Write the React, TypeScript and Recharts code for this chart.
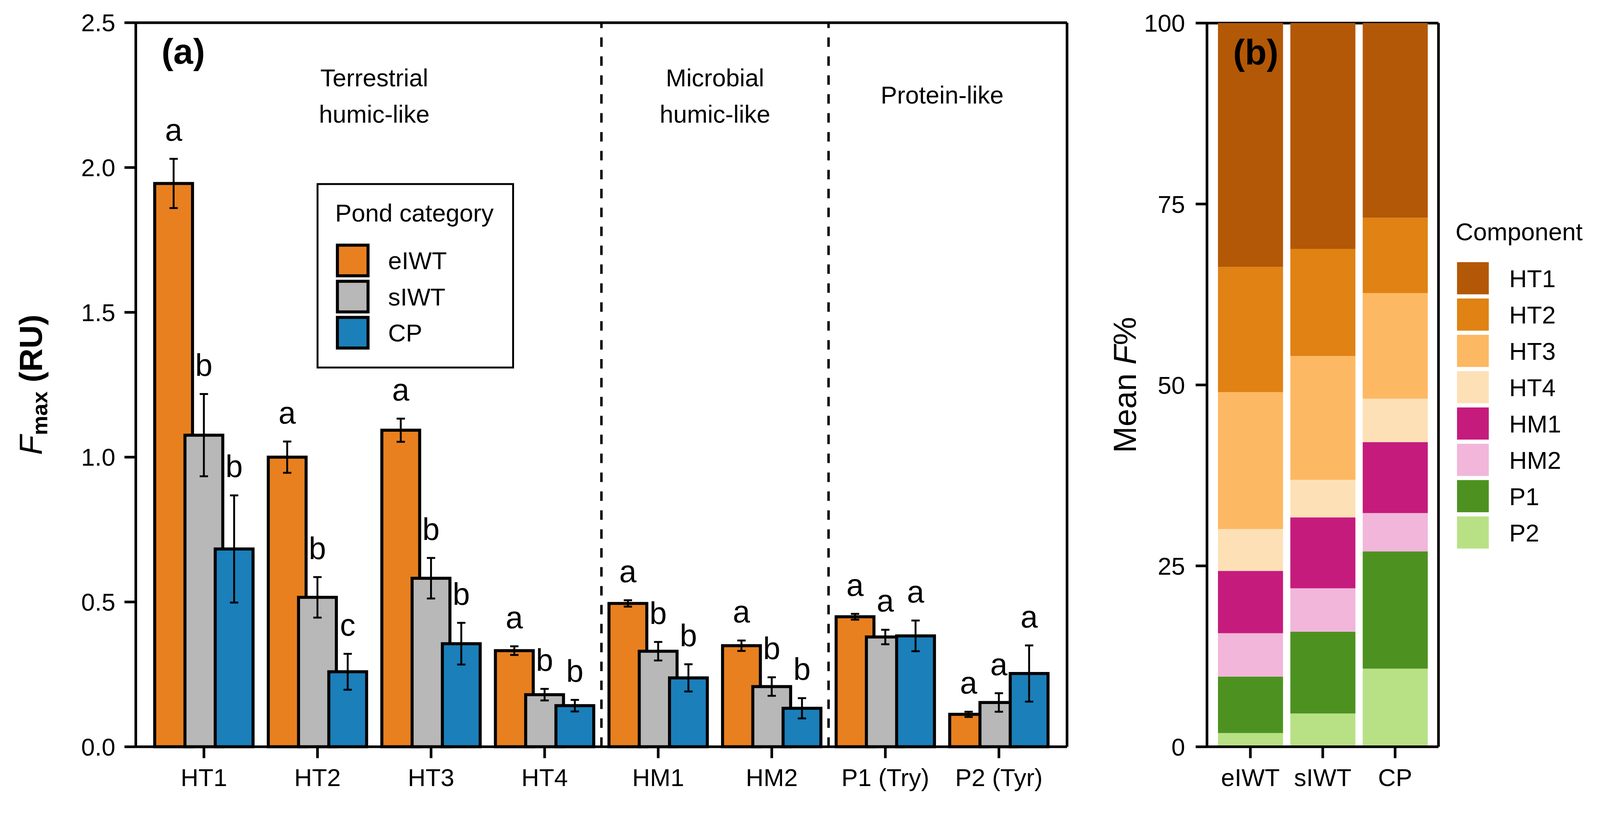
import React from "react";
import { Bar, BarChart, CartesianGrid, ErrorBar, LabelList, ReferenceLine, XAxis, YAxis } from "recharts";

const FONT = "'Liberation Sans', Arial, sans-serif";
const PAGE_W = 4230;
const PAGE_H = 2127;

// ---- panel (a): Fmax by component and pond category ----
const components = ["HT1", "HT2", "HT3", "HT4", "HM1", "HM2", "P1 (Try)", "P2 (Tyr)"];
const componentGroup = ["T", "T", "T", "T", "M", "M", "P", "P"];
const groupLabels: Record<string, string[]> = {
  T: ["Terrestrial", "humic-like"],
  M: ["Microbial", "humic-like"],
  P: ["Protein-like"],
};

const ponds = ["eIWT", "sIWT", "CP"];
const pondColors = ["#E8801F", "#B8B8B8", "#1B7FBA"];

const eIWTMean = [1.945, 1.0, 1.093, 0.332, 0.495, 0.349, 0.449, 0.112];
const eIWTSe = [0.085, 0.054, 0.04, 0.015, 0.011, 0.018, 0.01, 0.009];
const eIWTLetters = ["a", "a", "a", "a", "a", "a", "a", "a"];

const sIWTMean = [1.076, 0.516, 0.582, 0.18, 0.33, 0.208, 0.379, 0.153];
const sIWTSe = [0.142, 0.07, 0.07, 0.02, 0.032, 0.032, 0.025, 0.032];
const sIWTLetters = ["b", "b", "b", "b", "b", "b", "a", "a"];

const cpMean = [0.683, 0.259, 0.356, 0.142, 0.238, 0.133, 0.383, 0.253];
const cpSe = [0.185, 0.062, 0.072, 0.02, 0.047, 0.035, 0.053, 0.097];
const cpLetters = ["b", "c", "b", "b", "b", "b", "a", "a"];

const fmaxTicks = [0, 0.5, 1, 1.5, 2, 2.5];

// ---- panel (b): mean F% per pond category ----
const compB = ["HT1", "HT2", "HT3", "HT4", "HM1", "HM2", "P1", "P2"];
const compBColors = ["#B35806", "#E08214", "#FDB863", "#FEE0B6", "#C51B7D", "#F1B6DA", "#4D9221", "#B8E186"];
const eIWTPct = [33.7, 17.3, 18.9, 5.8, 8.6, 6.0, 7.8, 1.9];
const sIWTPct = [31.2, 14.8, 17.1, 5.2, 9.8, 6.0, 11.3, 4.6];
const cpPct = [26.9, 10.4, 14.6, 6.0, 9.8, 5.3, 16.2, 10.8];
const pctTicks = [0, 25, 50, 75, 100];

const dataA = components.map((name, i) => ({
  name,
  eIWT: eIWTMean[i],
  eIWTErr: eIWTSe[i],
  sIWT: sIWTMean[i],
  sIWTErr: sIWTSe[i],
  CP: cpMean[i],
  CPErr: cpSe[i],
}));

const pctByPond = [eIWTPct, sIWTPct, cpPct];
const dataB = ponds.map((pond, p) => {
  const row: Record<string, string | number> = { pond };
  compB.forEach((c, i) => (row[c] = pctByPond[p][i]));
  return row;
});

// group boundaries (end of the last band of a group) and group centres
const boundaryCats = componentGroup
  .map((g, i) => (i > 0 && g !== componentGroup[i - 1] ? components[i - 1] : null))
  .filter((v): v is string => v !== null);

const groupKeys = Array.from(new Set(componentGroup));
const groupCentres = groupKeys.map((g) => {
  const idx = componentGroup.map((v, i) => (v === g ? i : -1)).filter((i) => i >= 0);
  const c = (idx[0] + idx[idx.length - 1]) / 2;
  const whole = Number.isInteger(c);
  return { g, cat: components[Math.floor(c)], position: whole ? "middle" : "end" };
});

const tickStyle = { fontSize: 65, fill: "#000", fontFamily: FONT };
const tickLine = { stroke: "#000", strokeWidth: 7 };
const frameLine = { stroke: "#000", strokeWidth: 7 };

// top and right edges of the panel frame, taken from the chart's own offset
const topEdge = ({ offset }: any) => [offset.top];
const rightEdge = ({ offset }: any) => [offset.left + offset.width];

function letterContent(means: number[], ses: number[], letters: string[]) {
  return (props: any) => {
    const vb = props.viewBox ?? props;
    const i = props.index;
    const { x, y, width, height } = vb;
    const perUnit = height / means[i];
    const top = y - ses[i] * perUnit;
    return (
      <text x={x + width / 2} y={top - 48} textAnchor="middle" fontSize={82} fontFamily={FONT} fill="#000">
        {letters[i]}
      </text>
    );
  };
}

function groupText(lines: string[]) {
  return (props: any) => {
    const vb = props.viewBox ?? props;
    const cx = vb.x + (vb.width ?? 0) / 2;
    const top = vb.y;
    const first = lines.length === 1 ? 214 : 168;
    return (
      <text textAnchor="middle" fontSize={65} fontFamily={FONT} fill="#000">
        {lines.map((l, k) => (
          <tspan key={l} x={cx} y={top + first + k * 96}>
            {l}
          </tspan>
        ))}
      </text>
    );
  };
}

const fmaxLabel = (props: any) => {
  const vb = props.viewBox;
  const cy = vb.y + vb.height / 2;
  const x = 110;
  return (
    <text
      x={x}
      y={cy}
      transform={`rotate(-90 ${x} ${cy})`}
      textAnchor="middle"
      fontSize={85}
      fontFamily={FONT}
      fill="#000"
    >
      <tspan fontStyle="italic">F</tspan>
      <tspan fontWeight="bold" fontSize={58} dy={15}>
        max
      </tspan>
      <tspan fontWeight="bold" dy={-15}>
        {" (RU)"}
      </tspan>
    </text>
  );
};

const pctLabel = (props: any) => {
  const vb = props.viewBox;
  const cy = vb.y + vb.height / 2;
  const x = 103;
  return (
    <text
      x={x}
      y={cy}
      transform={`rotate(-90 ${x} ${cy})`}
      textAnchor="middle"
      fontSize={84}
      fontFamily={FONT}
      fill="#000"
    >
      Mean <tspan fontStyle="italic">F</tspan>%
    </text>
  );
};

function PanelA() {
  const means = [eIWTMean, sIWTMean, cpMean];
  const ses = [eIWTSe, sIWTSe, cpSe];
  const letters = [eIWTLetters, sIWTLetters, cpLetters];
  return (
    <BarChart
      width={2900}
      height={2127}
      data={dataA}
      margin={{ top: 60, right: 79, bottom: 53, left: 159 }}
      barSize={100}
      barGap={-20}
    >
      <CartesianGrid
        stroke="#000"
        strokeWidth={7}
        horizontalCoordinatesGenerator={topEdge}
        verticalCoordinatesGenerator={rightEdge}
      />
      <XAxis
        dataKey="name"
        padding={{ left: 30, right: 30 }}
        height={100}
        tickSize={30}
        tickMargin={28}
        axisLine={frameLine}
        tickLine={tickLine}
        tick={tickStyle}
        interval={0}
      />
      <YAxis
        domain={[0, 2.5]}
        ticks={fmaxTicks}
        tickFormatter={(v) => Number(v).toFixed(1)}
        width={200}
        tickSize={30}
        tickMargin={24}
        axisLine={frameLine}
        tickLine={tickLine}
        tick={tickStyle}
        label={fmaxLabel}
      />
      {boundaryCats.map((c) => (
        <ReferenceLine
          key={c}
          x={c}
          position="end"
          stroke="#000"
          strokeWidth={6.5}
          strokeDasharray="25 25"
        />
      ))}
      {groupCentres.map(({ g, cat, position }) => (
        <ReferenceLine
          key={g}
          x={cat}
          position={position as any}
          stroke="none"
          label={groupText(groupLabels[g])}
        />
      ))}
      {ponds.map((p, k) => (
        <Bar
          key={p}
          dataKey={p}
          fill={pondColors[k]}
          stroke="#000"
          strokeWidth={8}
          isAnimationActive={false}
        >
          <ErrorBar dataKey={`${p}Err`} width={11} stroke="#000" strokeWidth={5} />
          <LabelList dataKey={p} content={letterContent(means[k], ses[k], letters[k])} />
        </Bar>
      ))}
    </BarChart>
  );
}

function PanelB() {
  const stackOrder = [...compB].reverse();
  return (
    <BarChart
      width={1330}
      height={2127}
      data={dataB}
      margin={{ top: 61, right: 427, bottom: 53, left: 91 }}
      barSize={172}
    >
      <CartesianGrid
        stroke="#000"
        strokeWidth={7}
        horizontalCoordinatesGenerator={topEdge}
        verticalCoordinatesGenerator={rightEdge}
      />
      <XAxis
        dataKey="pond"
        padding={{ left: 19, right: 19 }}
        height={100}
        tickSize={30}
        tickMargin={28}
        axisLine={frameLine}
        tickLine={tickLine}
        tick={tickStyle}
      />
      <YAxis
        domain={[0, 100]}
        ticks={pctTicks}
        width={200}
        tickSize={30}
        tickMargin={28}
        axisLine={frameLine}
        tickLine={tickLine}
        tick={tickStyle}
        label={pctLabel}
      />
      {stackOrder.map((c) => (
        <Bar
          key={c}
          dataKey={c}
          stackId="s"
          fill={compBColors[compB.indexOf(c)]}
          isAnimationActive={false}
        />
      ))}
    </BarChart>
  );
}

function Overlay() {
  return (
    <svg
      width={PAGE_W}
      height={PAGE_H}
      style={{ position: "absolute", left: 0, top: 0, pointerEvents: "none" }}
      fontFamily={FONT}
    >
      <text x={427} y={168} fontSize={94} fontWeight="bold">
        (a)
      </text>
      <text x={3260} y={170} fontSize={94} fontWeight="bold">
        (b)
      </text>

      {/* legend (a) */}
      <rect x={839.5} y={486.5} width={517} height={485} fill="#fff" stroke="#000" strokeWidth={5} />
      <text x={886} y={586} fontSize={65}>
        Pond category
      </text>
      {ponds.map((p, k) => (
        <g key={p}>
          <rect x={892} y={648 + k * 95.5} width={81} height={81} fill={pondColors[k]} stroke="#000" strokeWidth={8} />
          <text x={1026} y={712 + k * 95.5} fontSize={65}>
            {p}
          </text>
        </g>
      ))}

      {/* legend (b) */}
      <text x={3848} y={635} fontSize={65}>
        Component
      </text>
      {compB.map((c, k) => (
        <g key={c}>
          <rect x={3852} y={693 + k * 96} width={84} height={85} fill={compBColors[k]} />
          <text x={3990} y={759 + k * 96} fontSize={65}>
            {c}
          </text>
        </g>
      ))}
    </svg>
  );
}

// the photographed viewport can be a little smaller than the nominal window,
// so scale the fixed-size figure down to fit it
function fitScale() {
  if (typeof window === "undefined") return 1;
  const sx = window.innerWidth / PAGE_W;
  const sy = window.innerHeight / PAGE_H;
  const s = Math.min(sx, sy);
  return s > 0.5 && s < 1 ? s : 1;
}

export default function App() {
  const s = fitScale();
  return (
    <div
      style={{
        position: "absolute",
        left: 0,
        top: 0,
        width: PAGE_W,
        height: PAGE_H,
        background: "#fff",
        overflow: "hidden",
        fontFamily: FONT,
        transform: s !== 1 ? `scale(${s})` : undefined,
        transformOrigin: "0 0",
      }}
    >
      <div style={{ position: "absolute", left: 0, top: 0 }}>
        <PanelA />
      </div>
      <div style={{ position: "absolute", left: 2900, top: 0 }}>
        <PanelB />
      </div>
      <Overlay />
    </div>
  );
}
